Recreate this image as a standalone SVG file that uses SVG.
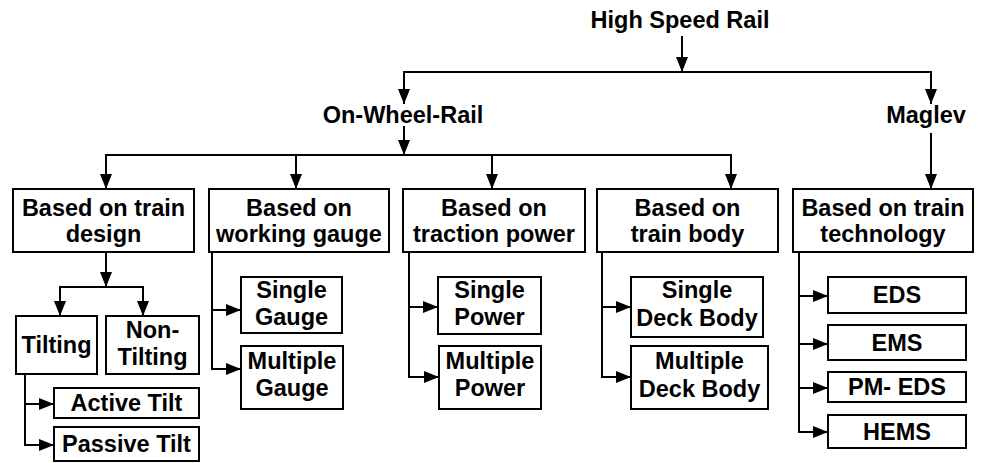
<svg xmlns="http://www.w3.org/2000/svg" width="982" height="463" viewBox="0 0 982 463">
<style>
  text { font-family: "Liberation Sans", Arial, sans-serif; font-weight: bold; font-size: 23.5px; fill: #000; text-anchor: middle; }
  rect { fill: #fff; stroke: #000; stroke-width: 2; }
  .c path, .c line { fill: none; stroke: #000; stroke-width: 2; }
  .a { marker-end: url(#ah); }
</style>
<defs>
  <marker id="ah" markerUnits="userSpaceOnUse" markerWidth="15" markerHeight="12" refX="15" refY="6" orient="auto">
    <path d="M0,0 L15,6 L0,12 z" fill="#000"/>
  </marker>
</defs>
<rect x="0" y="0" width="982" height="463" style="fill:#fff;stroke:none"/>
<g class="c" id="connectors">
  <line class="a" x1="682" y1="36" x2="682" y2="72"/>
  <path d="M404,104 V72 H931 V104"/>
  <line class="a" x1="404" y1="80" x2="404" y2="104"/>
  <line class="a" x1="931" y1="80" x2="931" y2="104"/>
  <line class="a" x1="404" y1="126" x2="404" y2="155"/>
  <path d="M106,189 V155 H731 V189"/>
  <line class="a" x1="106" y1="165" x2="106" y2="189"/>
  <line class="a" x1="296" y1="155" x2="296" y2="189"/>
  <line class="a" x1="492" y1="155" x2="492" y2="189"/>
  <line class="a" x1="731" y1="165" x2="731" y2="189"/>
  <line class="a" x1="931" y1="133" x2="931" y2="189"/>
  <line class="a" x1="106" y1="252" x2="106" y2="287"/>
  <path d="M60,316 V287 H143 V316"/>
  <line class="a" x1="60" y1="295" x2="60" y2="316"/>
  <line class="a" x1="143" y1="295" x2="143" y2="316"/>
  <path d="M25,374 V445 H54"/>
  <line class="a" x1="25" y1="404" x2="54" y2="404"/>
  <line class="a" x1="30" y1="445" x2="54" y2="445"/>
  <path d="M212,252 V369 H241"/>
  <line class="a" x1="212" y1="310" x2="241" y2="310"/>
  <line class="a" x1="216" y1="369" x2="241" y2="369"/>
  <path d="M409,252 V377 H439"/>
  <line class="a" x1="409" y1="307" x2="438" y2="307"/>
  <line class="a" x1="414" y1="377" x2="439" y2="377"/>
  <path d="M602,252 V377 H631"/>
  <line class="a" x1="602" y1="307" x2="631" y2="307"/>
  <line class="a" x1="607" y1="377" x2="631" y2="377"/>
  <path d="M799,252 V432 H828"/>
  <line class="a" x1="799" y1="296" x2="828" y2="296"/>
  <line class="a" x1="799" y1="344" x2="828" y2="344"/>
  <line class="a" x1="799" y1="388" x2="828" y2="388"/>
  <line class="a" x1="804" y1="432" x2="828" y2="432"/>
</g>
<g id="high-speed-rail"><text x="680" y="28">High Speed Rail</text></g>
<g id="on-wheel-rail"><text x="403" y="123">On-Wheel-Rail</text></g>
<g id="maglev"><text x="926" y="123">Maglev</text></g>
<g id="train-design"><rect x="13" y="189" width="181" height="63"/><text x="103.5" y="216">Based on train</text><text x="103.5" y="242">design</text></g>
<g id="working-gauge"><rect x="209" y="189" width="180" height="63"/><text x="299" y="216">Based on</text><text x="299" y="242">working gauge</text></g>
<g id="traction-power"><rect x="403" y="189" width="182" height="63"/><text x="494" y="216">Based on</text><text x="494" y="242">traction power</text></g>
<g id="train-body"><rect x="597" y="189" width="181" height="63"/><text x="687.5" y="216">Based on</text><text x="687.5" y="242">train body</text></g>
<g id="train-technology"><rect x="793" y="189" width="180" height="63"/><text x="883" y="216">Based on train</text><text x="883" y="242">technology</text></g>
<g id="tilting"><rect x="16" y="316" width="81" height="58"/><text x="56.5" y="353">Tilting</text></g>
<g id="non-tilting"><rect x="106" y="316" width="93" height="58"/><text x="152.5" y="338">Non-</text><text x="152.5" y="365">Tilting</text></g>
<g id="active-tilt"><rect x="54" y="388" width="145" height="30"/><text x="126.5" y="411">Active Tilt</text></g>
<g id="passive-tilt"><rect x="54" y="427" width="145" height="34"/><text x="126.5" y="452">Passive Tilt</text></g>
<g id="single-gauge"><rect x="241" y="277" width="101" height="56"/><text x="291.5" y="298">Single</text><text x="291.5" y="325">Gauge</text></g>
<g id="multiple-gauge"><rect x="241" y="346" width="102" height="63"/><text x="292" y="369">Multiple</text><text x="292" y="396">Gauge</text></g>
<g id="single-power"><rect x="438" y="277" width="103" height="57"/><text x="489.5" y="298">Single</text><text x="489.5" y="325">Power</text></g>
<g id="multiple-power"><rect x="439" y="346" width="102" height="63"/><text x="490" y="369">Multiple</text><text x="490" y="396">Power</text></g>
<g id="single-deck"><rect x="631" y="277" width="132" height="60"/><text x="697" y="298">Single</text><text x="697" y="326">Deck Body</text></g>
<g id="multiple-deck"><rect x="631" y="346" width="137" height="63"/><text x="699.5" y="369">Multiple</text><text x="699.5" y="397">Deck Body</text></g>
<g id="eds"><rect x="828" y="277" width="138" height="36"/><text x="897" y="303">EDS</text></g>
<g id="ems"><rect x="828" y="325" width="138" height="35"/><text x="897" y="351">EMS</text></g>
<g id="pm-eds"><rect x="828" y="372" width="138" height="30"/><text x="897" y="395">PM- EDS</text></g>
<g id="hems"><rect x="828" y="415" width="138" height="33"/><text x="897" y="440">HEMS</text></g>
</svg>
